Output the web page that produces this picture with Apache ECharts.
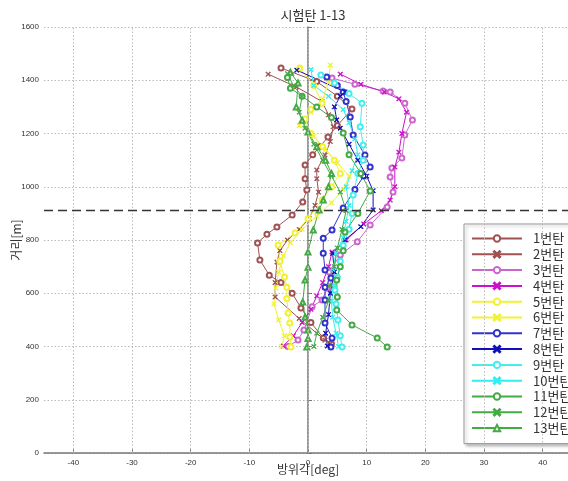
<!DOCTYPE html>
<html>
<head>
<meta charset="utf-8">
<script src="https://cdn.jsdelivr.net/npm/echarts@6/dist/echarts.min.js"></script>
<style>
  html, body { margin: 0; padding: 0; background: #fff; }
  #chart { width: 568px; height: 481px; }
</style>
</head>
<body>
<div id="chart"></div>
<script>
// Azimuth [deg] vs. range [m] for each round, points as [deg, m]
const shot1 = [[4.0,410],[2.6,432],[0.5,490],[-1.2,545],[-2.7,600],[-4.6,640],[-6.6,668],[-8.2,725],[-8.6,789],[-7.0,822],[-5.3,849],[-2.7,894],[-0.9,943],[-0.2,988],[-0.5,1030],[-0.5,1082],[0.8,1120],[2.0,1150],[3.4,1187],[5.0,1230],[7.5,1292],[5.0,1340],[1.5,1395],[-4.6,1446]];
const shot2 = [[3.8,410],[2.9,424],[-1.5,505],[-5.6,586],[-5.6,640],[-5.3,717],[-4.8,760],[-3.5,800],[-1.5,840],[0.2,880],[1.2,930],[1.8,980],[1.5,1030],[1.5,1063],[2.9,1119],[3.8,1170],[4.3,1225],[3.5,1270],[2.4,1320],[-2.0,1375],[-6.8,1423]];
const shot3 = [[-3.4,400],[-1.7,424],[-0.7,462],[0.7,549],[2.4,575],[3.3,620],[3.6,680],[5.5,744],[8.4,793],[10.6,856],[13.5,924],[14.5,980],[14.0,1037],[14.3,1070],[16.0,1108],[16.5,1194],[17.8,1251],[16.5,1314],[14.0,1356],[12.8,1360],[8.0,1385],[4.1,1408]];
const shot4 = [[-4.2,402],[-2.5,440],[-1.0,490],[0.5,540],[1.5,590],[2.5,640],[3.5,700],[4.1,755],[6.5,800],[9.5,860],[12.5,910],[14.0,950],[14.8,1000],[14.8,1074],[15.5,1130],[16.0,1200],[16.8,1280],[15.5,1330],[13.0,1356],[9.0,1385],[5.5,1423]];
const shot5 = [[-2.9,398],[-3.1,436],[-3.1,488],[-3.4,526],[-3.6,580],[-3.6,623],[-4.0,661],[-4.8,720],[-5.1,781],[-2.2,826],[0.0,880],[2.4,950],[4.0,1000],[5.5,1050],[4.5,1100],[2.5,1150],[0.5,1200],[-0.5,1254],[0.5,1290],[2.4,1314],[1.0,1380],[-1.4,1446]];
const shot6 = [[-4.5,400],[-4.0,440],[-5.0,500],[-5.8,560],[-5.5,620],[-5.0,680],[-4.2,740],[-3.0,790],[-1.0,840],[1.5,890],[4.0,940],[6.0,990],[7.0,1040],[5.0,1090],[3.0,1140],[1.0,1190],[-1.5,1230],[0.5,1280],[2.5,1330],[3.5,1390],[3.8,1457]];
const shot7 = [[3.9,398],[4.1,432],[2.9,488],[2.9,575],[2.9,623],[3.9,657],[2.9,687],[2.6,750],[2.6,807],[4.1,838],[6.0,920],[8.0,990],[9.5,1040],[10.6,1074],[9.7,1119],[7.7,1194],[7.2,1262],[6.5,1320],[6.0,1356],[5.0,1380],[3.2,1412]];
const shot8 = [[3.3,402],[3.0,450],[3.5,520],[3.8,600],[4.5,680],[4.2,750],[6.3,800],[9.0,850],[11.1,913],[11.1,985],[10.0,1040],[8.5,1100],[7.0,1160],[5.5,1220],[4.9,1251],[4.5,1300],[5.5,1340],[6.3,1356],[-1.9,1438]];
const shot9 = [[5.8,398],[5.5,440],[5.1,500],[4.8,560],[4.6,612],[5.0,660],[5.5,720],[6.0,780],[7.0,840],[7.5,900],[7.7,969],[8.5,1050],[9.4,1100],[9.4,1157],[8.9,1225],[9.2,1314],[7.0,1350],[4.5,1390],[2.2,1420]];
const shot10 = [[5.2,400],[4.8,450],[4.2,510],[4.0,570],[4.5,630],[4.2,690],[4.8,750],[6.0,810],[6.5,870],[7.0,930],[6.5,1000],[7.5,1060],[8.5,1120],[8.0,1180],[7.0,1240],[6.0,1290],[3.5,1340],[1.0,1380],[0.5,1440]];
const shot11 = [[13.5,398],[11.8,432],[7.5,481],[4.9,537],[5.0,586],[4.9,650],[5.5,700],[6.0,760],[6.3,830],[8.5,900],[10.6,984],[9.0,1050],[7.0,1120],[6.0,1202],[4.0,1260],[1.5,1300],[-1.0,1340],[-3.0,1370],[-3.5,1410]];
const shot12 = [[1.0,400],[1.5,450],[2.5,510],[3.5,570],[3.8,630],[4.5,700],[5.0,770],[5.8,840],[6.5,910],[5.5,980],[4.0,1040],[2.5,1100],[1.0,1160],[-0.5,1220],[-1.5,1280],[-1.0,1340],[-2.5,1380],[-3.5,1425]];
const shot13 = [[-0.2,398],[0.0,430],[0.0,462],[-0.5,511],[-0.9,567],[-0.5,650],[0.0,698],[0.0,755],[0.9,838],[1.9,913],[2.6,950],[3.5,1000],[4.0,1050],[3.0,1100],[1.5,1150],[0.0,1206],[-1.0,1250],[-2.0,1300],[-1.7,1390],[-3.0,1430]];

const shotNames = ['1번탄','2번탄','3번탄','4번탄','5번탄','6번탄','7번탄','8번탄','9번탄','10번탄','11번탄','12번탄','13번탄'];
const shotData = [shot1, shot2, shot3, shot4, shot5, shot6, shot7, shot8, shot9, shot10, shot11, shot12, shot13];

// reference range line [m]
const refRange = 913;

// axis ranges and tick positions
const xMin = -45, xMax = 45;
const xTicks = [-40, -30, -20, -10, 0, 10, 20, 30, 40];
const yMin = 0, yMax = 1600, yStep = 200;

const colors = ['#a05252','#a05252','#cc66cc','#cc11cc','#f2f230','#f2f230','#3333cc','#1111bb','#44eeee','#33eeee','#44aa44','#44aa44','#44aa44'];
const CROSS = 'path://M0,1L1,0L5,4L9,0L10,1L6,5L10,9L9,10L5,6L1,10L0,9L4,5Z';
const symbols = ['emptyCircle', CROSS, 'emptyCircle', CROSS, 'emptyCircle', CROSS, 'emptyCircle', CROSS, 'emptyCircle', CROSS, 'emptyCircle', CROSS, 'emptyTriangle'];

const narrow = '"Liberation Sans Narrow", "Liberation Sans", Arial, sans-serif';
const kr = '"Noto Sans CJK KR", "Noto Sans", sans-serif';

const series = shotData.map((d, i) => ({
  name: shotNames[i],
  type: 'line',
  data: d,
  color: colors[i],
  symbol: symbols[i],
  symbolSize: symbols[i] === CROSS ? 4.5 : 5,
  lineStyle: { width: 1, color: colors[i] },
  itemStyle: { color: colors[i], borderColor: colors[i], borderWidth: 1 },
  animation: false,
  z: 3
}));

// vertical dotted grid lines at the labelled azimuths, plus the dashed range line
series.push({
  type: 'line',
  data: [],
  silent: true,
  animation: false,
  z: 1,
  markLine: {
    silent: true,
    animation: false,
    symbol: ['none', 'none'],
    label: { show: false },
    lineStyle: { color: '#bbb', type: [1.5, 2], width: 1 },
    data: xTicks.map(v => ({ xAxis: v }))
  }
});
series.push({
  type: 'line',
  data: [],
  silent: true,
  animation: false,
  z: 2,
  markLine: {
    silent: true,
    animation: false,
    symbol: ['none', 'none'],
    label: { show: false },
    lineStyle: { color: '#333', type: [9, 5], width: 1.3 },
    data: [{ yAxis: refRange }]
  }
});

const chart = echarts.init(document.getElementById('chart'), null, { renderer: 'canvas' });
chart.setOption({
  backgroundColor: '#fff',
  animation: false,
  title: {
    text: '시험탄 1-13',
    left: 308,
    top: 4,
    textAlign: 'center',
    textStyle: { fontFamily: kr, fontSize: 13, fontWeight: 'normal', color: '#333' }
  },
  grid: { left: 44, right: -4, top: 27, bottom: 28, containLabel: false, outerBoundsMode: 'none' },
  xAxis: {
    type: 'value',
    min: xMin, max: xMax, interval: 5,
    name: '방위각[deg]',
    nameLocation: 'middle',
    nameGap: 10,
    nameMoveOverlap: false,
    nameTextStyle: { fontFamily: kr, fontSize: 12, color: '#333', verticalAlign: 'top' },
    axisLine: { show: true, onZero: false, lineStyle: { color: '#777', width: 1.5 } },
    axisTick: { show: true, inside: true, length: 4, customValues: xTicks, lineStyle: { color: '#777' } },
    axisLabel: {
      fontFamily: narrow, fontSize: 8, color: '#333', margin: 6,
      customValues: xTicks,
      formatter: v => (xTicks.indexOf(v) >= 0 ? String(v) : '')
    },
    splitLine: { show: false }
  },
  yAxis: {
    type: 'value',
    min: yMin, max: yMax, interval: yStep,
    name: '거리[m]',
    nameLocation: 'middle',
    nameGap: 22,
    nameMoveOverlap: false,
    nameTextStyle: { fontFamily: kr, fontSize: 12, color: '#333' },
    axisLine: { show: true, lineStyle: { color: '#777', width: 1.5 } },
    axisTick: { show: true, inside: true, length: 4, lineStyle: { color: '#777' } },
    axisLabel: { fontFamily: narrow, fontSize: 8, color: '#333', margin: 5, formatter: v => String(v) },
    splitLine: { show: true, lineStyle: { color: '#bbb', type: [1.5, 2], width: 1 } }
  },
  legend: {
    data: shotNames,
    orient: 'vertical',
    left: 464,
    top: 224,
    width: 120,
    padding: [8, 30, 9, 7],
    itemWidth: 50,
    itemHeight: 8,
    itemGap: 2.8,
    backgroundColor: '#fff',
    borderColor: '#999',
    borderWidth: 1,
    borderRadius: 0,
    shadowColor: 'rgba(0,0,0,0.25)',
    shadowBlur: 3,
    shadowOffsetX: 2,
    shadowOffsetY: 2,
    textStyle: { fontFamily: kr, fontSize: 13, lineHeight: 13, color: '#333', padding: [0, 0, 0, 6] },
    selectedMode: false
  },
  series: series
});
</script>
</body>
</html>
